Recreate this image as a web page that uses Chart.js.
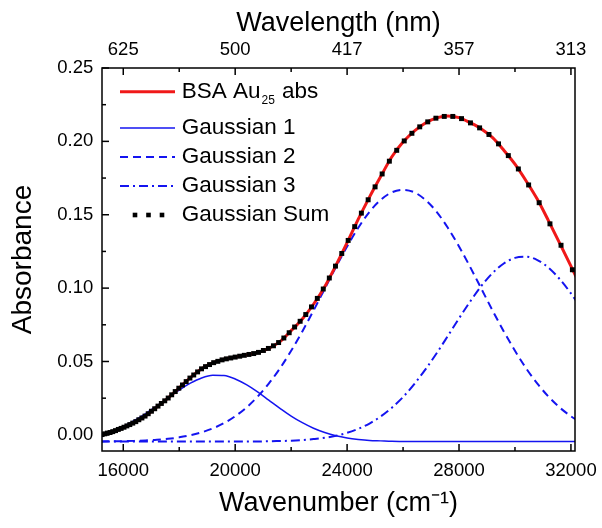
<!DOCTYPE html>
<html>
<head>
<meta charset="utf-8">
<script src="https://cdn.jsdelivr.net/npm/chart.js@4.4.1/dist/chart.umd.min.js"></script>
<style>
  body { margin: 0; background: #fff; }
  #wrap { width: 602px; height: 528px; }
</style>
</head>
<body>
<div id="wrap"><canvas id="abs-chart" width="602" height="528"></canvas></div>
<script>
// wavenumber grid (cm-1) for the measured curve and the three fitted gaussians
const wavenumbers = [15200, 15600, 16000, 16400, 16800, 17200, 17600, 18000, 18400, 18800, 19200,
  19600, 20000, 20400, 20800, 21200, 21600, 22000, 22400, 22800, 23200, 23600, 24000, 24400,
  24800, 25200, 25600, 26000, 26400, 26800, 27200, 27600, 28000, 28400, 28800, 29200, 29600,
  30000, 30400, 30800, 31200, 31600, 32000, 32200]

const absorbance = [0.0000, 0.0020, 0.0050, 0.0085, 0.0130, 0.0190, 0.0250, 0.0320, 0.0390, 0.0450,
  0.0490, 0.0515, 0.0530, 0.0545, 0.0560, 0.0590, 0.0635, 0.0710, 0.0790, 0.0890, 0.1010, 0.1155,
  0.1310, 0.1470, 0.1620, 0.1760, 0.1895, 0.1995, 0.2070, 0.2125, 0.2160, 0.2173, 0.2162, 0.2127,
  0.2085, 0.2025, 0.1940, 0.1845, 0.1730, 0.1605, 0.1458, 0.1305, 0.1150, 0.1070]

const gauss1 = [0.0002, 0.0025, 0.0058, 0.0098, 0.0145, 0.0198, 0.0252, 0.0305, 0.0352, 0.0388,
  0.0406, 0.0404, 0.0381, 0.0342, 0.0293, 0.0237, 0.0181, 0.0128, 0.0083, 0.0045, 0.0016, -0.0006,
  -0.0021, -0.0031, -0.0038, -0.0041, -0.0044, -0.0045, -0.0046, -0.0046, -0.0046, -0.0046, -0.0046,
  -0.0046, -0.0046, -0.0046, -0.0046, -0.0046, -0.0046, -0.0046, -0.0046, -0.0046, -0.0046, -0.0046]

const gauss2 = [-0.0045, -0.0044, -0.0043, -0.0041, -0.0038, -0.0034, -0.0027, -0.0017, -0.0003, 0.0017,
  0.0044, 0.0080, 0.0127, 0.0186, 0.0260, 0.0349, 0.0453, 0.0573, 0.0705, 0.0847, 0.0995, 0.1143,
  0.1284, 0.1411, 0.1520, 0.1601, 0.1653, 0.1670, 0.1653, 0.1601, 0.1520, 0.1411, 0.1284, 0.1143,
  0.0995, 0.0847, 0.0705, 0.0573, 0.0453, 0.0349, 0.0260, 0.0186, 0.0127, 0.0102]

const gauss3 = [-0.0046, -0.0046, -0.0046, -0.0046, -0.0046, -0.0046, -0.0046, -0.0046, -0.0046, -0.0046,
  -0.0046, -0.0046, -0.0046, -0.0046, -0.0045, -0.0044, -0.0042, -0.0040, -0.0036, -0.0029, -0.0020,
  -0.0006, 0.0014, 0.0041, 0.0077, 0.0125, 0.0185, 0.0258, 0.0346, 0.0446, 0.0556, 0.0674, 0.0794,
  0.0909, 0.1015, 0.1103, 0.1168, 0.1206, 0.1214, 0.1191, 0.1139, 0.1061, 0.0964, 0.0909]

// gaussian sum, sampled every 4 nm
const sumWavelengths = [656, 652, 648, 644, 640, 636, 632, 628, 624, 620, 616, 612, 608, 604, 600,
  596, 592, 588, 584, 580, 576, 572, 568, 564, 560, 556, 552, 548, 544, 540, 536, 532, 528, 524,
  520, 516, 512, 508, 504, 500, 496, 492, 488, 484, 480, 476, 472, 468, 464, 460, 456, 452, 448,
  444, 440, 436, 432, 428, 424, 420, 416, 412, 408, 404, 400, 396, 392, 388, 384, 380, 376, 372,
  368, 364, 360, 356, 352, 348, 344, 340, 336, 332, 328, 324, 320, 316, 312]

const sumValues = [0.0002, 0.0007, 0.0012, 0.0016, 0.0022, 0.0029, 0.0037, 0.0044, 0.0052, 0.0061,
  0.0070, 0.0080, 0.0090, 0.0103, 0.0115, 0.0128, 0.0144, 0.0161, 0.0178, 0.0196, 0.0214, 0.0232,
  0.0251, 0.0273, 0.0295, 0.0318, 0.0340, 0.0363, 0.0387, 0.0408, 0.0429, 0.0450, 0.0465, 0.0479,
  0.0492, 0.0501, 0.0511, 0.0518, 0.0524, 0.0530, 0.0536, 0.0542, 0.0548, 0.0554, 0.0562, 0.0575,
  0.0589, 0.0607, 0.0629, 0.0660, 0.0696, 0.0735, 0.0774, 0.0820, 0.0872, 0.0930, 0.0994, 0.1069,
  0.1150, 0.1236, 0.1325, 0.1419, 0.1511, 0.1602, 0.1690, 0.1778, 0.1865, 0.1939, 0.2003, 0.2055,
  0.2099, 0.2133, 0.2158, 0.2170, 0.2170, 0.2155, 0.2126, 0.2092, 0.2047, 0.1983, 0.1903, 0.1812,
  0.1703, 0.1582, 0.1438, 0.1292, 0.1125]

// axis ticks
const xTicks = [16000, 20000, 24000, 28000, 32000]
const xMinorTicks = [18000, 22000, 26000, 30000]
const topTickLabels = ['625', '500', '417', '357', '313']
const yTicks = [0, 0.05, 0.10, 0.15, 0.20, 0.25]
const yMinorTicks = [0.025, 0.075, 0.125, 0.175, 0.225]

const FONT = "'Liberation Sans', Arial, sans-serif"
const RED = '#f01818'
const BLUE = '#1414f0'

const toPoints = (ys) => wavenumbers.map((x, i) => ({x: x, y: ys[i]}))
const sumPoints = sumWavelengths.map((nm, i) => ({x: 1e7 / nm, y: sumValues[i]}))

// draws the frame, the inward tick marks and the legend
const frameAndLegend = {
  id: 'frameAndLegend',
  afterDraw(chart) {
    const {ctx, chartArea: a, scales} = chart
    ctx.save()
    ctx.strokeStyle = '#000'
    ctx.lineWidth = 1.5
    ctx.setLineDash([])

    const tick = (x1, y1, x2, y2) => {
      ctx.beginPath(); ctx.moveTo(x1, y1); ctx.lineTo(x2, y2); ctx.stroke()
    }
    xTicks.forEach(v => {
      const px = scales.x.getPixelForValue(v)
      tick(px, a.bottom, px, a.bottom - 7)
      tick(px, a.top, px, a.top + 7)
    })
    xMinorTicks.forEach(v => {
      const px = scales.x.getPixelForValue(v)
      tick(px, a.bottom, px, a.bottom - 4)
      tick(px, a.top, px, a.top + 4)
    })
    yTicks.forEach(v => {
      const py = scales.y.getPixelForValue(v)
      tick(a.left, py, a.left + 7, py)
    })
    yMinorTicks.forEach(v => {
      const py = scales.y.getPixelForValue(v)
      tick(a.left, py, a.left + 4, py)
    })
    ctx.strokeRect(a.left, a.top, a.right - a.left, a.bottom - a.top)

    // legend
    const ds = chart.data.datasets
    const rows = [
      {d: ds[1], y: 91.7, text: ['BSA Au', '25', ' abs']},
      {d: ds[2], y: 128, text: ['Gaussian 1']},
      {d: ds[3], y: 157, text: ['Gaussian 2']},
      {d: ds[4], y: 186, text: ['Gaussian 3']},
      {d: ds[0], y: 215, text: ['Gaussian Sum']}
    ]
    const x0 = 120, x1 = 175, textX = 181.7
    rows.forEach(r => {
      if (r.d.showLine === false) {
        ctx.fillStyle = '#000'
        ;[135, 148.5, 162].forEach(cx => ctx.fillRect(cx - 2.3, r.y - 2.3, 4.6, 4.6))
      } else {
        ctx.strokeStyle = r.d.borderColor
        ctx.lineWidth = r.d.borderWidth
        ctx.setLineDash(r.d.borderDash || [])
        tick(x0, r.y, x1, r.y)
        ctx.setLineDash([])
      }
      ctx.fillStyle = '#000'
      ctx.textBaseline = 'middle'
      let tx = textX
      r.text.forEach((part, i) => {
        if (i === 1) {
          ctx.font = '12px ' + FONT
          ctx.fillText(part, tx + 1, r.y + 9)
          tx += ctx.measureText(part).width + 2
        } else {
          ctx.font = '22.5px ' + FONT
          ctx.fillText(part, tx, r.y)
          tx += ctx.measureText(part).width
        }
      })
    })
    ctx.restore()
  }
}

const zeroPad = (s) => { s.paddingLeft = 0; s.paddingRight = 0; s.paddingTop = 0; s.paddingBottom = 0 }

new Chart(document.getElementById('abs-chart'), {
  type: 'line',
  data: {
    datasets: [{
      label: 'Gaussian Sum',
      data: sumPoints,
      showLine: false,
      pointStyle: 'rect',
      pointRadius: 3.5,
      pointBorderWidth: 0,
      pointBackgroundColor: '#000',
      borderColor: '#000',
      backgroundColor: '#000'
    }, {
      label: 'BSA Au₂₅ abs',
      data: toPoints(absorbance),
      borderColor: RED,
      borderWidth: 3,
      pointRadius: 0,
      cubicInterpolationMode: 'monotone'
    }, {
      label: 'Gaussian 1',
      data: toPoints(gauss1),
      borderColor: BLUE,
      borderWidth: 1.5,
      pointRadius: 0,
      cubicInterpolationMode: 'monotone'
    }, {
      label: 'Gaussian 2',
      data: toPoints(gauss2),
      borderColor: BLUE,
      borderWidth: 2,
      borderDash: [8, 5],
      pointRadius: 0,
      cubicInterpolationMode: 'monotone'
    }, {
      label: 'Gaussian 3',
      data: toPoints(gauss3),
      borderColor: BLUE,
      borderWidth: 2,
      borderDash: [9, 4, 2, 4],
      pointRadius: 0,
      cubicInterpolationMode: 'monotone'
    }]
  },
  options: {
    responsive: false,
    animation: false,
    events: [],
    layout: {padding: {left: 0, top: 0, right: 27, bottom: 0}},
    scales: {
      x: {
        type: 'linear',
        position: 'bottom',
        min: 15240,
        max: 32145,
        afterBuildTicks: (s) => { s.ticks = xTicks.map(v => ({value: v})) },
        afterFit: (s) => { s.height = 77; zeroPad(s) },
        grid: {display: false, drawTicks: false},
        border: {display: false},
        ticks: {
          padding: 8.7,
          color: '#000',
          maxRotation: 0,
          autoSkip: false,
          font: {family: FONT, size: 18.5},
          callback: (v) => String(v)
        },
        title: {
          display: true,
          text: 'Wavenumber (cm⁻¹)',
          color: '#000',
          font: {family: FONT, size: 27},
          padding: {top: 0, bottom: 8}
        }
      },
      x2: {
        type: 'linear',
        position: 'top',
        min: 15240,
        max: 32145,
        afterBuildTicks: (s) => { s.ticks = xTicks.map(v => ({value: v})) },
        afterFit: (s) => { s.height = 68; zeroPad(s) },
        grid: {display: false, drawTicks: false},
        border: {display: false},
        ticks: {
          padding: 7,
          color: '#000',
          maxRotation: 0,
          autoSkip: false,
          font: {family: FONT, size: 18.5},
          callback: (v, i) => topTickLabels[i]
        },
        title: {
          display: true,
          text: 'Wavelength (nm)',
          color: '#000',
          font: {family: FONT, size: 27},
          padding: {top: 7, bottom: 0}
        }
      },
      y: {
        min: -0.011,
        max: 0.25,
        afterBuildTicks: (s) => { s.ticks = yTicks.map(v => ({value: v})) },
        afterFit: (s) => { s.width = 102; zeroPad(s) },
        grid: {display: false, drawTicks: false},
        border: {display: false},
        ticks: {
          padding: 8.7,
          color: '#000',
          font: {family: FONT, size: 18.5},
          callback: (v) => v.toFixed(2)
        },
        title: {
          display: true,
          text: 'Absorbance',
          color: '#000',
          font: {family: FONT, size: 28},
          padding: {top: 6.5, bottom: 0}
        }
      }
    },
    plugins: {
      legend: {display: false},
      tooltip: {enabled: false}
    }
  },
  plugins: [frameAndLegend]
});
</script>
</body>
</html>
